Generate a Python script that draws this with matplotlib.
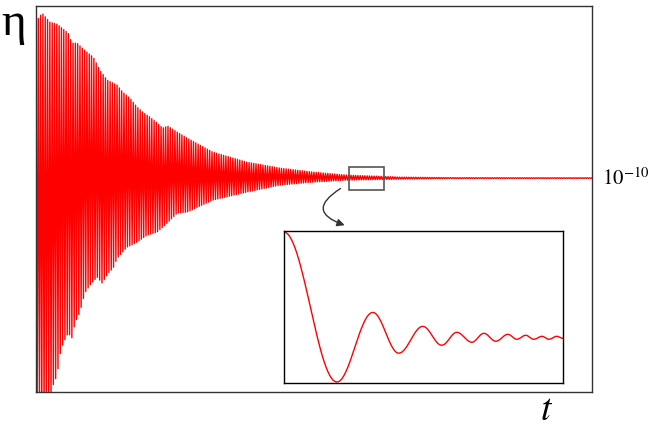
import numpy as np
import matplotlib.pyplot as plt
from matplotlib.patches import Rectangle, FancyArrowPatch

plt.rcParams['mathtext.fontset'] = 'stix'

# main signal: envelope (t in 0..1, amplitude in arbitrary units)
top_t = [0.002, 0.011, 0.025, 0.038, 0.049, 0.058, 0.065, 0.074, 0.085, 0.103, 0.115,
         0.128, 0.146, 0.156, 0.169, 0.182, 0.192, 0.205, 0.218, 0.228, 0.237, 0.254,
         0.272, 0.318, 0.379, 0.439, 0.498, 0.559, 0.655, 0.745, 1.0]
top_amp = [158, 165, 156, 154, 149, 145, 135, 135, 129, 121, 108,
           98, 93, 86, 80, 71, 66, 61, 55, 50, 52, 46,
           40, 26, 16, 10, 6, 3, 1, 0.4, 0.3]
bot_t = [0.002, 0.016, 0.031, 0.038, 0.043, 0.049, 0.058, 0.065, 0.070, 0.079, 0.088,
         0.097, 0.110, 0.119, 0.130, 0.139, 0.146, 0.164, 0.182, 0.200, 0.218, 0.236,
         0.254, 0.272, 0.318, 0.379, 0.439, 0.498, 0.559, 0.655, 0.745, 1.0]
bot_amp = [240, 240, 207, 197, 177, 165, 155, 160, 145, 134, 115,
           107, 99, 105, 95, 90, 80, 69, 64, 57, 54, 45,
           35, 34, 22, 14, 7, 4, 2, 1, 0.4, 0.3]
n_cycles = 240
eq_label = r'$10^{-10}$'

# inset: extrema of the zoomed signal (t in 0..1, deviation)
ins_t = [0.0, 0.190, 0.319, 0.412, 0.498, 0.566, 0.620, 0.674, 0.717, 0.760,
         0.803, 0.835, 0.867, 0.896, 0.925, 0.950, 0.978, 1.0]
ins_y = [107, -44, 26, -15, 12, -7, 6, -4, 5, -3, 4, -1, 3, -1, 2, -1, 2, 0]

# build curves
tc = np.linspace(0, 1, 2 * n_cycles + 1)
up = np.interp(tc, top_t, top_amp)
dn = np.interp(tc, bot_t, bot_amp)
sig = np.where(np.arange(tc.size) % 2 == 0, up, -dn)

xi, yi = [], []
for k in range(len(ins_t) - 1):
    s = np.linspace(0, 1, 30)
    xi.append(ins_t[k] + (ins_t[k + 1] - ins_t[k]) * s)
    yi.append(ins_y[k] + (ins_y[k + 1] - ins_y[k]) * (1 - np.cos(np.pi * s)) / 2)
xi = np.concatenate(xi)
yi = np.concatenate(yi)

fig = plt.figure(figsize=(6.54, 4.33), dpi=100)
ax = fig.add_axes([0.055, 0.0947, 0.850, 0.891])
ax.plot(tc, sig, color='red', lw=1.0)
ax.set_xlim(0, 1)
ax.set_ylim(-214, 172)
ax.set_xticks([])
ax.set_yticks([])
for sp in ax.spines.values():
    sp.set_color('#333333')
    sp.set_linewidth(1.0)

ax.text(1.018, 0, eq_label, transform=ax.get_yaxis_transform(), fontsize=15,
        va='center', ha='left')

# zoom box and arrow
ax.add_patch(Rectangle((0.563, -12), 0.063, 23, fill=False, ec='#555555', lw=1.2, zorder=5))
arr = FancyArrowPatch((0.552, -9), (0.560, -48), connectionstyle='arc3,rad=1.1',
                      arrowstyle='-|>', mutation_scale=11, color='#333333', lw=1.0)
ax.add_patch(arr)

fig.text(0.002, 0.945, 'η', fontsize=34, family='Liberation Serif', va='center', ha='left')
fig.text(0.835, 0.012, r'$t$', fontsize=27, va='bottom', ha='center')

ins = fig.add_axes([0.434, 0.1155, 0.4266, 0.351])
ins.plot(xi, yi, color='red', lw=1.0)
ins.set_xlim(0, 1)
ins.set_ylim(-45, 108)
ins.set_xticks([])
ins.set_yticks([])
for sp in ins.spines.values():
    sp.set_color('black')
    sp.set_linewidth(1.0)

fig.savefig('out.png', dpi=100)
